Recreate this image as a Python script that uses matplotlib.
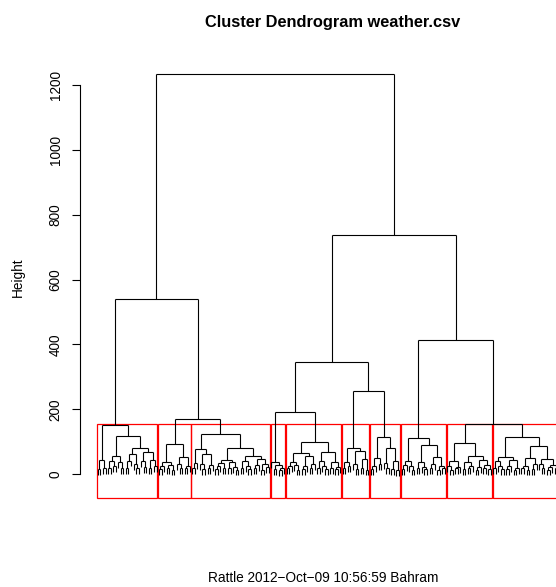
import matplotlib
matplotlib.use("Agg")
import matplotlib.pyplot as plt
from matplotlib.collections import LineCollection
from matplotlib.patches import Rectangle

plt.rcParams['font.family'] = ['Liberation Sans', 'DejaVu Sans']

# dendrogram written as compact newick: "." = observation, "(ab)h" = merge at height h
# the ten clusters cut by rect.hclust(k=10), left to right
clusters = {
    'A': "(((..)16(..)20)44((((..)20(..)25)40(.(..)18)38)57"
         "((((..)20.)42(.(..)18)30)62((.(..)22)40((..)18(..)24)45)68)82)118)152",
    'B': "((((..)15.)25((..)18(..)14)28)36((.(..)20)32((..)18.)26)52)93",
    'C': "((((..)18.)35((.(..)16)30((..)20.)28)62)77"
         "(((((..)15.)24(..)20)33((..)18(.(..)14)22)38)44"
         "(((..)20(.(..)16)26)40(((..)18.)28((..)14(..)22)30)48)57)82)124",
    'D': "(.((..)15((..)12.)20)28)36",
    'E': "(((((..)18.)25(.(..)14)28)38(((..)16.)26((..)20.)30)57)65"
         "(((..)20(.(..)15)24)40((..)18((..)16.)22)36)68)99",
    'F': "(((..)18(..)24)36((.(..)16)30((..)20(..)14)46)72)82",
    'G': "((((..)15.)26(..)30)51((.(..)18)34((..)16(..)12)40)82)115",
    'H': "((((..)16.)28(.(..)14)24)42(((..)18(.(..)15)22)36(((..)20.)30((..)14(..)18)26)54)90)111",
    'I': "(((.(..)14)26((..)18.)22)40(((..)16((..)20.)24)38(((..)14.)22((..)18(..)15)28)44)57)96",
    'J': "((((..)18(.(..)15)24)40(((..)16.)26((..)14.)20)44)54"
         "((((..)18(..)14)26((..)16.)30)50((.(..)20)32(((..)14.)22(..)18)28)46)88)115",
}
# upper merges joining the clusters
top = "((A(BC)170)541(((DE)192(FG)257)346(H(IJ)155)414)736)1234"

yticks = [0, 200, 400, 600, 800, 1000, 1200]
hang = 18
k_height = (155 + 152) / 2   # rect.hclust top: mean of 9th/10th highest merge


def parse(s, i=0):
    c = s[i]
    if c == '.':
        return None, i + 1
    if c.isalpha():
        node, _ = parse(clusters[c])
        return node, i + 1
    left, i = parse(s, i + 1)
    right, i = parse(s, i)
    j = i + 1
    while j < len(s) and s[j].isdigit():
        j += 1
    return (float(s[i + 1:j]), left, right), j


def count(node):
    if node is None:
        return 1
    return count(node[1]) + count(node[2])


tree, _ = parse(top)
n = count(tree)

segs = []
pos = [0]


def draw(node):
    if node is None:
        pos[0] += 1
        return pos[0]
    h, l, r = node
    xs = []
    for ch in (l, r):
        x = draw(ch)
        bot = ch[0] if ch is not None else h - hang
        segs.append([(x, bot), (x, h)])
        xs.append(x)
    segs.append([(xs[0], h), (xs[1], h)])
    return (xs[0] + xs[1]) / 2


draw(tree)

W, H = 556, 587
fig = plt.figure(figsize=(W / 100, H / 100), dpi=100)
ax = fig.add_axes([80 / W, 89 / H, 476 / W, 438 / H])

# leaf 1 -0.34 at px 97, leaf n +0.33 at px 558
s = 461 / (n + 0.33 - 0.66)
ax.set_xlim(0.66 - 17 / s, 0.66 + 459 / s)
ax.set_ylim(-73.5, 1277)

ax.add_collection(LineCollection(segs, colors='black', linewidths=0.8, clip_on=False))

# red boxes around the k=10 clusters
start = 1
for key in "ABCDEFGHIJ":
    m = count(parse(clusters[key])[0])
    ax.add_patch(Rectangle((start - 0.34, -73.5), m - 1 + 0.67, k_height + 73.5,
                           fill=False, edgecolor='red', lw=0.9, clip_on=False))
    start += m

for sp in ['top', 'right', 'bottom']:
    ax.spines[sp].set_visible(False)
ax.spines['left'].set_bounds(0, 1200)
ax.spines['left'].set_linewidth(0.8)
ax.set_xticks([])
ax.set_yticks(yticks)
ax.set_yticklabels([str(t) for t in yticks], rotation=90, va='center')
ax.tick_params(axis='y', length=5.5, width=0.8, pad=7, labelsize=9.8)

fig.text(18 / W, 1 - 277 / H, "Height", rotation=90, ha='center', va='center', fontsize=9.8)
fig.text(333 / W, 1 - 22 / H, "Cluster Dendrogram weather.csv", ha='center', va='center',
         fontsize=11.8, fontweight='bold')
fig.text(323 / W, 1 - 578 / H, "Rattle 2012\u2212Oct\u221209 10:56:59 Bahram", ha='center',
         va='center', fontsize=9.8)

fig.savefig("out.png", dpi=100)
